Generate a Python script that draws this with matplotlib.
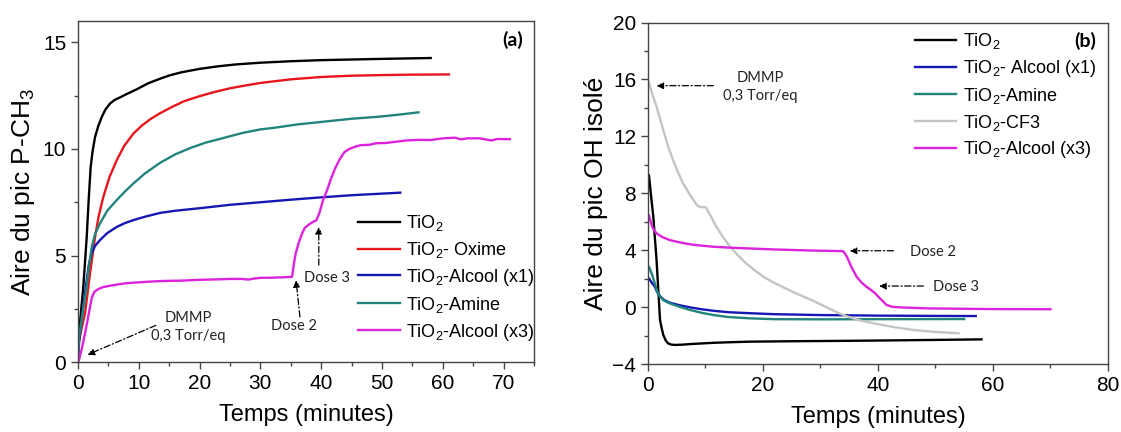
import numpy as np
import matplotlib
matplotlib.use('Agg')
import matplotlib.pyplot as plt
from matplotlib.ticker import MultipleLocator

plt.rcParams['font.family'] = ['Liberation Sans', 'DejaVu Sans']
plt.rcParams['mathtext.fontset'] = 'custom'
plt.rcParams['mathtext.rm'] = 'Liberation Sans'
plt.rcParams['mathtext.default'] = 'regular'

########## Data (a) : aire du pic P-CH3 ##########
a_tio2_t = [0, 0.16, 0.5, 0.87, 1.2, 1.43, 1.75, 2.08, 2.4, 2.8, 3.3, 3.9, 4.5, 5.26, 6, 6.9, 8, 9.65,
            11.5, 13.5, 15, 17, 20, 23, 26, 30, 35, 40, 45, 50, 58]
a_tio2_y = [0.5, 1.34, 2.4, 3.53, 4.9, 5.87, 7.6, 9.16, 9.9, 10.56, 11.05, 11.5, 11.85, 12.13, 12.3, 12.42,
            12.58, 12.8, 13.08, 13.3, 13.45, 13.6, 13.76, 13.88, 13.97, 14.05, 14.12, 14.17, 14.2, 14.23, 14.27]

a_oxime_t = [0, 0.16, 0.6, 1.15, 1.6, 1.97, 2.4, 2.8, 3.4, 4.16, 5.2, 6.36, 7.6, 9.1, 10.5, 12, 13.5,
             15.5, 17.5, 20, 22.5, 25, 27.5, 30, 35, 40, 45, 50, 55, 61]
a_oxime_y = [0.5, 1.0, 1.6, 2.28, 3.3, 4.16, 5.05, 5.87, 6.85, 7.75, 8.7, 9.47, 10.15, 10.72, 11.1, 11.42,
             11.68, 11.98, 12.25, 12.48, 12.68, 12.85, 12.98, 13.1, 13.27, 13.38, 13.44, 13.47, 13.49, 13.5]

a_alc1_t = [0, 0.2, 0.8, 1.43, 1.8, 2.25, 2.8, 3.6, 4.8, 6.36, 7.7, 9.1, 11, 13.5, 16, 20, 25, 30, 35,
            40, 45, 53]
a_alc1_y = [0.2, 1.0, 2.5, 3.84, 4.6, 5.1, 5.45, 5.72, 6.05, 6.34, 6.52, 6.66, 6.82, 7.0, 7.1, 7.22, 7.38,
            7.5, 7.62, 7.73, 7.83, 7.95]

a_amine_t = [0, 0.2, 0.8, 1.43, 1.8, 2.25, 2.8, 3.6, 4.8, 6.36, 7.7, 9.1, 11, 13.5, 16, 18.5, 21, 23.7,
             27, 30, 32.4, 36, 41, 45, 49.7, 53, 56]
a_amine_y = [0.3, 1.2, 2.4, 3.53, 4.5, 5.4, 6.0, 6.5, 7.1, 7.6, 8.0, 8.38, 8.85, 9.35, 9.75, 10.05, 10.3,
             10.5, 10.75, 10.92, 11.0, 11.15, 11.3, 11.42, 11.52, 11.62, 11.72]

a_alc3_t = [0, 0.16, 0.6, 1.15, 1.6, 1.97, 2.3, 2.7, 3.3, 4.16, 6, 8, 11, 13.5, 17, 20, 23, 25, 27, 28,
            29, 30, 32, 34, 35.2, 35.5, 35.8, 36.3, 36.8, 37.3, 38.2, 38.8, 39.2, 39.7, 40.3, 41, 41.6,
            42.3, 43, 43.8, 44.6, 45.5, 46.5, 48, 49, 50.5, 52, 54, 56, 58, 60, 62, 63, 64, 66, 67, 68,
            69, 71]
a_alc3_y = [0, 0.1, 0.6, 1.34, 2.0, 2.59, 3.05, 3.3, 3.42, 3.52, 3.62, 3.7, 3.76, 3.8, 3.82, 3.86, 3.88,
            3.9, 3.9, 3.87, 3.92, 3.95, 3.96, 3.98, 4.0, 4.6, 5.1, 5.6, 6.0, 6.3, 6.5, 6.6, 6.65, 7.0, 7.6,
            8.1, 8.6, 9.1, 9.5, 9.85, 10.0, 10.1, 10.18, 10.2, 10.27, 10.28, 10.33, 10.4, 10.43, 10.42,
            10.5, 10.53, 10.45, 10.5, 10.5, 10.45, 10.4, 10.47, 10.46]

########## Data (b) : aire du pic OH isolé ##########
b_tio2_t = [0, 0.17, 0.5, 0.93, 1.5, 2.1, 2.4, 2.67, 3.1, 3.5, 4.0, 4.7, 6, 7.3, 10, 12, 15, 17.7, 25,
            35, 45, 58]
b_tio2_y = [9.3, 9.28, 8.0, 6.35, 3.3, -0.9, -1.5, -1.96, -2.35, -2.55, -2.63, -2.66, -2.64, -2.6, -2.54,
            -2.5, -2.46, -2.43, -2.4, -2.37, -2.33, -2.27]

b_alc1_t = [0, 0.17, 0.7, 1.2, 1.6, 2.1, 2.8, 3.8, 5.5, 7.3, 9.3, 11.4, 14, 17.7, 22, 30, 40, 50, 57]
b_alc1_y = [2.05, 2.02, 1.7, 1.43, 1.05, 0.78, 0.5, 0.31, 0.13, -0.02, -0.15, -0.26, -0.36, -0.43, -0.5,
            -0.56, -0.6, -0.62, -0.63]

b_amine_t = [0, 0.17, 0.7, 1.2, 1.6, 2.1, 2.8, 3.8, 5.5, 7.3, 9.3, 11.4, 14, 17.7, 22, 30, 40, 55]
b_amine_y = [2.85, 2.84, 2.3, 1.67, 1.1, 0.73, 0.45, 0.26, 0.02, -0.2, -0.4, -0.56, -0.7, -0.79, -0.85,
             -0.86, -0.85, -0.84]

b_cf3_t = [0, 0.17, 0.8, 1.5, 2.67, 3.5, 4.4, 5.2, 6.1, 7.3, 8.5, 9.0, 10.1, 10.9, 11.9, 13, 14.3, 15.5,
           17, 18.5, 20, 21.5, 23, 25, 27, 28.7, 31, 33, 34.6, 37, 40, 43, 46, 50, 54]
b_cf3_y = [15.9, 15.8, 14.9, 14.08, 12.44, 11.3, 10.3, 9.5, 8.7, 7.9, 7.17, 7.05, 7.0, 6.4, 5.65, 4.95,
           4.24, 3.7, 3.1, 2.6, 2.15, 1.8, 1.5, 1.1, 0.75, 0.45, 0.0, -0.4, -0.65, -0.95, -1.2, -1.42,
           -1.6, -1.75, -1.84]

b_alc3_t = [0, 0.17, 0.4, 0.64, 1.0, 1.5, 2.5, 3.8, 5.5, 7.3, 9.3, 11.4, 14, 17.7, 22, 28, 33.9, 34.2,
            34.6, 35.4, 36.3, 37.2, 38.0, 38.8, 39.5, 40.5, 41.5, 42.5, 43.8, 48.5, 59.5, 70]
b_alc3_y = [6.5, 6.47, 6.1, 5.77, 5.45, 5.18, 4.92, 4.71, 4.55, 4.41, 4.32, 4.24, 4.18, 4.12, 4.05, 3.98,
            3.93, 3.8, 3.54, 2.8, 2.13, 1.7, 1.43, 1.2, 0.97, 0.55, 0.15, 0.02, -0.02, -0.09, -0.14, -0.15]

labels_a = ['TiO$_2$', 'TiO$_2$- Oxime', 'TiO$_2$-Alcool (x1)', 'TiO$_2$-Amine', 'TiO$_2$-Alcool (x3)']
labels_b = ['TiO$_2$', 'TiO$_2$- Alcool (x1)', 'TiO$_2$-Amine', 'TiO$_2$-CF3', 'TiO$_2$-Alcool (x3)']

BLACK = '#000000'
RED = '#e8161c'
BLUE = '#1616b4'
TEAL = '#22857c'
GRAY = '#c4c4c4'
MAGENTA = '#dd22dd'

fig = plt.figure(figsize=(11.21, 4.32), dpi=100)
ax1 = fig.add_axes([0.0696, 0.162, 0.4068, 0.789])
ax2 = fig.add_axes([0.578, 0.1574, 0.4104, 0.7905])

lw = 1.7
ax1.plot(a_tio2_t, a_tio2_y, color=BLACK, lw=lw, label=labels_a[0])
ax1.plot(a_oxime_t, a_oxime_y, color=RED, lw=lw, label=labels_a[1])
ax1.plot(a_alc1_t, a_alc1_y, color=BLUE, lw=lw, label=labels_a[2])
ax1.plot(a_amine_t, a_amine_y, color=TEAL, lw=lw, label=labels_a[3])
ax1.plot(a_alc3_t, a_alc3_y, color=MAGENTA, lw=lw, label=labels_a[4])

ax2.plot(b_tio2_t, b_tio2_y, color=BLACK, lw=lw, label=labels_b[0])
ax2.plot(b_alc1_t, b_alc1_y, color=BLUE, lw=lw, label=labels_b[1])
ax2.plot(b_amine_t, b_amine_y, color=TEAL, lw=lw, label=labels_b[2])
ax2.plot(b_cf3_t, b_cf3_y, color=GRAY, lw=lw, label=labels_b[3])
ax2.plot(b_alc3_t, b_alc3_y, color=MAGENTA, lw=lw, label=labels_b[4])

ax1.set_xlim(0, 75)
ax1.set_ylim(0, 16)
ax1.xaxis.set_major_locator(MultipleLocator(10))
ax1.xaxis.set_minor_locator(MultipleLocator(5))
ax1.yaxis.set_major_locator(MultipleLocator(5))
ax1.yaxis.set_minor_locator(MultipleLocator(2.5))

ax2.set_xlim(0, 80)
ax2.set_ylim(-4, 20)
ax2.xaxis.set_major_locator(MultipleLocator(20))
ax2.xaxis.set_minor_locator(MultipleLocator(10))
ax2.yaxis.set_major_locator(MultipleLocator(4))
ax2.yaxis.set_minor_locator(MultipleLocator(2))

for ax in (ax1, ax2):
    for sp in ax.spines.values():
        sp.set_color('#444444')
        sp.set_linewidth(1.0)
    ax.tick_params(which='major', direction='out', length=5, width=1, color='#444444', labelsize=15)
    ax.tick_params(which='minor', direction='out', length=3, width=1, color='#444444')
    ax.set_xlabel('Temps (minutes)', fontsize=17, labelpad=8)

ax1.set_ylabel('Aire du pic P-CH$_3$', fontsize=19, labelpad=4)
ax2.set_ylabel('Aire du pic OH isolé', fontsize=19, labelpad=3)

leg_kw = dict(frameon=False, fontsize=13, handlelength=2.3, handletextpad=0.35,
              labelspacing=0.38, borderpad=0, borderaxespad=0, loc='upper left')
ax1.legend(bbox_to_anchor=(0.614, 0.437), **leg_kw)
ax2.legend(bbox_to_anchor=(0.58, 0.975), **leg_kw)

# panel labels
ax1.text(0.975, 0.945, '(a)', transform=ax1.transAxes, ha='right', va='center',
         fontsize=14, fontweight='bold', family=['Lato', 'DejaVu Sans'])
ax2.text(0.975, 0.945, '(b)', transform=ax2.transAxes, ha='right', va='center',
         fontsize=14, fontweight='bold', family=['Lato', 'DejaVu Sans'])

# annotations
arr = dict(arrowstyle='-|>', color='k', lw=0.9, linestyle=(0, (5, 2, 1, 2)),
           mutation_scale=10, shrinkA=0, shrinkB=0)
note_font = dict(fontsize=10.5, family=['Lato', 'DejaVu Sans'], color='#222222')

ax1.annotate('', xy=(1.55, 0.34), xytext=(12.8, 1.72), arrowprops=arr)
ax1.text(18.1, 1.65, 'DMMP\n0,3 Torr/eq', ha='center', va='center', linespacing=1.35, **note_font)
ax1.annotate('', xy=(35.85, 3.84), xytext=(36.5, 2.12), arrowprops=arr)
ax1.text(35.6, 1.69, 'Dose 2', ha='center', va='center', **note_font)
ax1.annotate('', xy=(39.6, 6.34), xytext=(39.6, 4.55), arrowprops=arr)
ax1.text(41.0, 3.95, 'Dose 3', ha='center', va='center', **note_font)

ax2.annotate('', xy=(1.5, 15.56), xytext=(11.4, 15.56), arrowprops=arr)
ax2.text(19.5, 15.47, 'DMMP\n0,3 Torr/eq', ha='center', va='center', linespacing=1.35, **note_font)
ax2.annotate('', xy=(35.1, 3.96), xytext=(42.7, 3.96), arrowprops=arr)
ax2.text(45.6, 3.9, 'Dose 2', ha='left', va='center', **note_font)
ax2.annotate('', xy=(40.2, 1.48), xytext=(47.9, 1.48), arrowprops=arr)
ax2.text(49.5, 1.44, 'Dose 3', ha='left', va='center', **note_font)

fig.savefig('out.png', dpi=100)
